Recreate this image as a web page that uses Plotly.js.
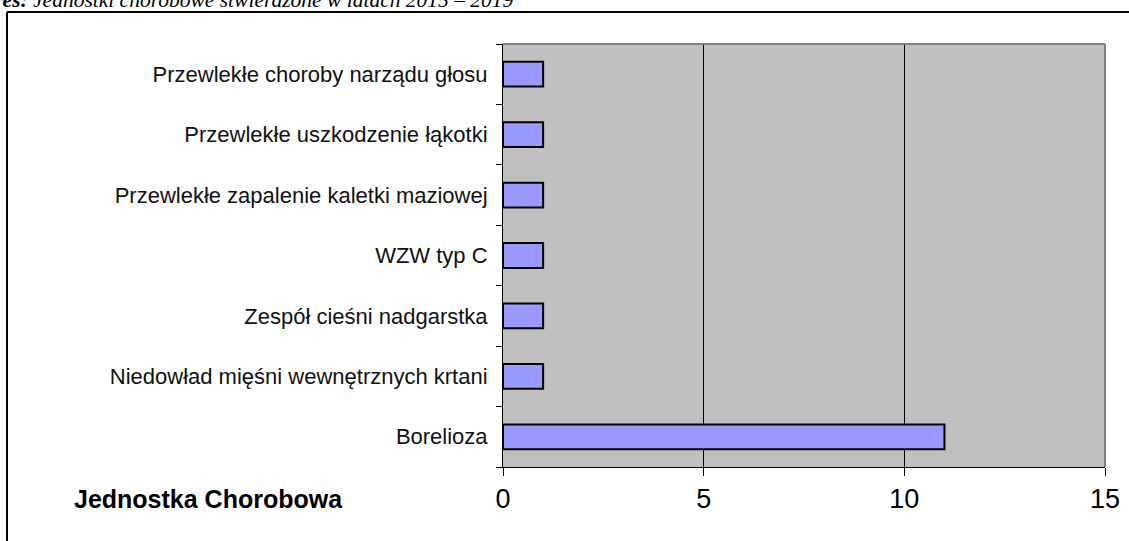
<!DOCTYPE html>
<html>
<head>
<meta charset="utf-8">
<script src="https://cdn.plot.ly/plotly-3.0.1.min.js"></script>
<style>
  html, body { margin: 0; padding: 0; background: #fff; }
  #chart { width: 1129px; height: 541px; }
</style>
</head>
<body>
<div id="chart"></div>
<script>
// kategorie od dołu do góry (plotly rysuje pierwszą na dole)
const categories = [
    "Borelioza",
    "Niedowład mięśni wewnętrznych krtani",
    "Zespół cieśni nadgarstka",
    "WZW typ C",
    "Przewlekłe zapalenie kaletki maziowej",
    "Przewlekłe uszkodzenie łąkotki",
    "Przewlekłe choroby narządu głosu"
];
const counts = [11, 1, 1, 1, 1, 1, 1];
const xTicks = [0, 5, 10, 15];

const data = [{
    type: "bar",
    orientation: "h",
    y: categories,
    x: counts,
    marker: { color: "#9999ff", line: { color: "#000", width: 2 } },
    hoverinfo: "x+y"
}];

const layout = {
    width: 1129,
    height: 541,
    margin: { l: 503, r: 24, t: 44, b: 74 },
    paper_bgcolor: "#fff",
    plot_bgcolor: "#c0c0c0",
    showlegend: false,
    bargap: 0.59,
    font: { family: "Arial, 'Liberation Sans', sans-serif", color: "#000" },
    xaxis: {
        range: [0, 15],
        tickvals: xTicks,
        ticks: "outside",
        ticklen: 8,
        tickcolor: "#000",
        showline: true,
        linecolor: "#000",
        linewidth: 1,
        showgrid: true,
        gridcolor: "#000",
        gridwidth: 1,
        zeroline: false,
        tickfont: { size: 27, color: "#000" },
        fixedrange: true
    },
    yaxis: {
        type: "category",
        tickson: "boundaries",
        ticks: "outside",
        ticklen: 6,
        tickcolor: "#000",
        showline: true,
        linecolor: "#000",
        linewidth: 1,
        showgrid: false,
        zeroline: false,
        ticklabelstandoff: 10,
        tickfont: { size: 22, color: "#111" },
        fixedrange: true
    },
    shapes: [
        // górna i prawa krawędź obszaru wykresu
        { type: "line", xref: "paper", yref: "paper", x0: 0, x1: 1, y0: 1, y1: 1,
          line: { color: "#808080", width: 2 } },
        { type: "line", xref: "paper", yref: "paper", x0: 1, x1: 1, y0: 0, y1: 1,
          line: { color: "#808080", width: 2 } },
        // ramka całego wykresu (lewa i górna)
        { type: "line", xref: "paper", yref: "paper", x0: -0.8239, x1: 1.2, y0: 1.0757, y1: 1.0757,
          line: { color: "#000", width: 2 } },
        { type: "line", xref: "paper", yref: "paper", x0: -0.8239, x1: -0.8239, y0: -0.3, y1: 1.0757,
          line: { color: "#000", width: 2 } }
    ],
    annotations: [
        {
            text: "<b>Jednostka Chorobowa</b>",
            xref: "paper", yref: "paper",
            x: -0.716, y: -0.075,
            xanchor: "left", yanchor: "middle",
            showarrow: false,
            font: { size: 25, color: "#000" }
        },
        {
            text: "<b><i>Wykres:</i></b><i> Jednostki chorobowe stwierdzone w latach 2015 – 2019</i>",
            xref: "paper", yref: "paper",
            x: 0.0215, y: 1.1035,
            xanchor: "right", yanchor: "middle",
            showarrow: false,
            font: { family: "'Liberation Serif', 'Times New Roman', serif", size: 21.5, color: "#000" }
        }
    ]
};

Plotly.newPlot("chart", data, layout, { displayModeBar: false, staticPlot: true });
</script>
</body>
</html>
